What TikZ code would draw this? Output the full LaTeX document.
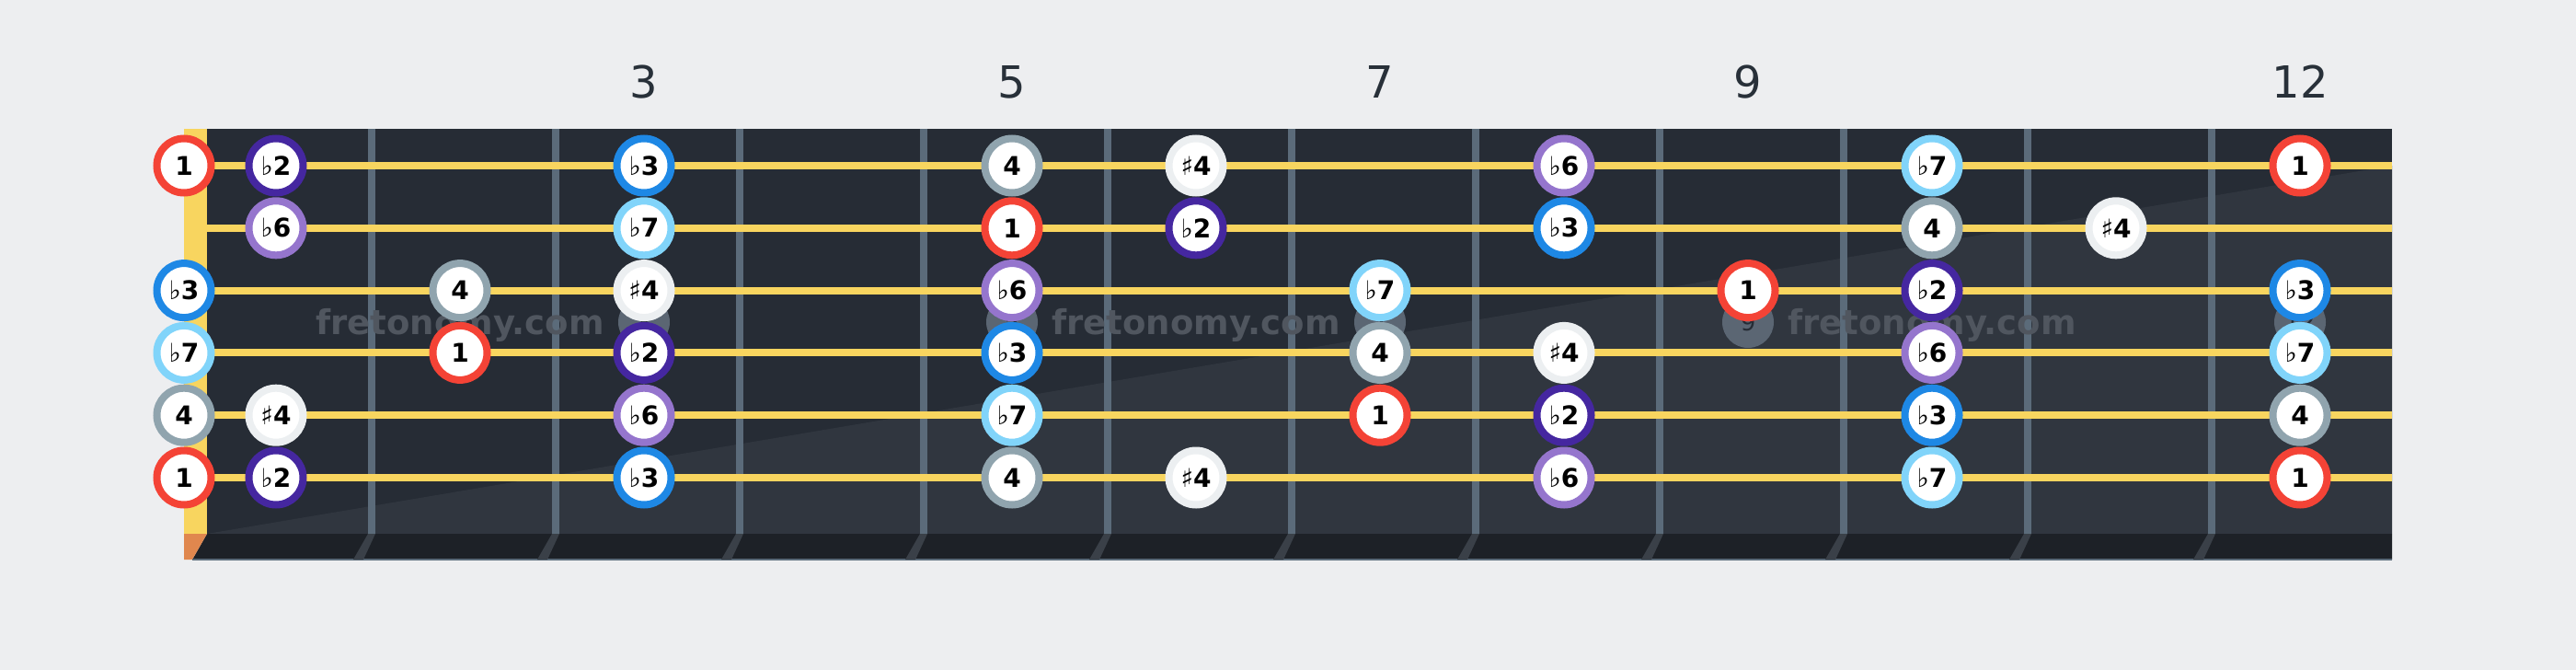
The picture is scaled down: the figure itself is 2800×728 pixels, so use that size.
\documentclass[tikz,border=0pt]{standalone}
\usepackage{fontspec}
\setmainfont{DejaVu Sans}
\newfontfamily\fretfont{DejaVu Sans}
\definecolor{bgc}{HTML}{EDEEF0}
\definecolor{boardc}{HTML}{262C35}
\definecolor{boardlc}{HTML}{30363F}
\definecolor{fretc}{HTML}{5B6B7A}
\definecolor{stringc}{HTML}{F8D55F}
\definecolor{orangec}{HTML}{E0874E}
\definecolor{stripc}{HTML}{1D2127}
\definecolor{slantc}{HTML}{3A4048}
\definecolor{numc}{HTML}{283039}
\definecolor{wmc}{HTML}{50565F}
\definecolor{inlayc}{HTML}{5B6673}
\definecolor{cr}{HTML}{F44336}
\definecolor{cbtwo}{HTML}{4527A0}
\definecolor{cbthree}{HTML}{1E88E5}
\definecolor{cfour}{HTML}{90A4AE}
\definecolor{csfour}{HTML}{ECEFF1}
\definecolor{cbsix}{HTML}{9575CD}
\definecolor{cbseven}{HTML}{81D4FA}
\newcommand\flt{{\mdseries ♭}}
\newcommand\shp{{\mdseries ♯}}
\begin{document}
\begin{tikzpicture}[x=0.5pt,y=-0.5pt,
  note/.style={circle, fill=white, draw=#1, line width=4pt, minimum size=29.5pt, inner sep=0pt,
    font=\fontsize{14}{14}\selectfont\bfseries, text=black},
  degr/.style={note=cr, node contents={1}},
  degb2/.style={note=cbtwo, node contents={\flt2}},
  degb3/.style={note=cbthree, node contents={\flt3}},
  degf/.style={note=cfour, node contents={4}},
  degs4/.style={note=csfour, node contents={\shp4}},
  degb6/.style={note=cbsix, node contents={\flt6}},
  degb7/.style={note=cbseven, node contents={\flt7}},
  fretnum/.style={text=numc, font=\fretfont\fontsize{24}{24}\selectfont, inner sep=0pt},
  inlay/.style={circle, fill=inlayc, minimum size=28pt, inner sep=0pt, text=boardc,
    font=\fontsize{13}{13}\selectfont},
  wm/.style={text=wmc, font=\fontsize{18.5}{18.5}\selectfont\bfseries, inner sep=0pt, anchor=base},
  stringline/.style={draw=stringc, line width=4pt},
  fretline/.style={fill=fretc}
]
\useasboundingbox (0,0) rectangle (2800,728);
\fill[bgc] (0,0) rectangle (2800,728);
% board
\fill[boardc] (225,140) rectangle (2600,580);
\fill[boardlc] (225,580) -- (2600,180) -- (2600,580) -- cycle;
% nut
\fill[stringc] (200,140) rectangle (225,580);
% bottom strip
\fill[stripc] (225,580) -- (2600,580) -- (2600,608) -- (209,608) -- cycle;
\fill[orangec] (200,580) -- (225,580) -- (209,608) -- (200,608) -- cycle;
\draw[fretc, line width=0.8pt] (209,608) -- (2600,608);
% frets
\foreach \k in {1,...,11} {
  \pgfmathsetmacro\xf{400+200*(\k-1)}
  \fill[fretline] (\xf,140) rectangle (\xf+7.5,580);
  \fill[slantc] (\xf,580) -- (\xf+8,580) -- (\xf-5,608) -- (\xf-16,608) -- cycle;
}
% inlays
\foreach \f/\xx in {3/700,5/1100,7/1500,9/1900,12/2500} {
  \node[inlay] (mk\f) at (\xx,350) {\f};
}
% watermark
\foreach \i/\xx in {1/500,2/1300,3/2100} {
  \node[wm] (wm\i) at (\xx,363) {fretonomy.com};
}
% strings
\foreach \s in {1,...,6} {
  \pgfmathsetmacro\ys{180+67.8*(\s-1)}
  \coordinate (sa\s) at (225,\ys);
  \coordinate (sb\s) at (2600,\ys);
  \draw[stringline] (sa\s) -- (sb\s);
}
% fret numbers
\foreach \f/\xx in {3/700,5/1100,7/1500,9/1900,12/2500} {
  \node[fretnum] (fn\f) at (\xx,89) {\f};
}
% notes
\foreach \s/\f/\d in {
  1/0/r,1/1/b2,1/3/b3,1/5/f,1/6/s4,1/8/b6,1/10/b7,1/12/r,
  2/1/b6,2/3/b7,2/5/r,2/6/b2,2/8/b3,2/10/f,2/11/s4,
  3/0/b3,3/2/f,3/3/s4,3/5/b6,3/7/b7,3/9/r,3/10/b2,3/12/b3,
  4/0/b7,4/2/r,4/3/b2,4/5/b3,4/7/f,4/8/s4,4/10/b6,4/12/b7,
  5/0/f,5/1/s4,5/3/b6,5/5/b7,5/7/r,5/8/b2,5/10/b3,5/12/f,
  6/0/r,6/1/b2,6/3/b3,6/5/f,6/6/s4,6/8/b6,6/10/b7,6/12/r} {
  \pgfmathsetmacro\xn{max(200,100+200*\f)}
  \pgfmathsetmacro\yn{180+67.8*(\s-1)}
  \node (n\s-\f) at (\xn,\yn) [deg\d];
}
\end{tikzpicture}
\end{document}
